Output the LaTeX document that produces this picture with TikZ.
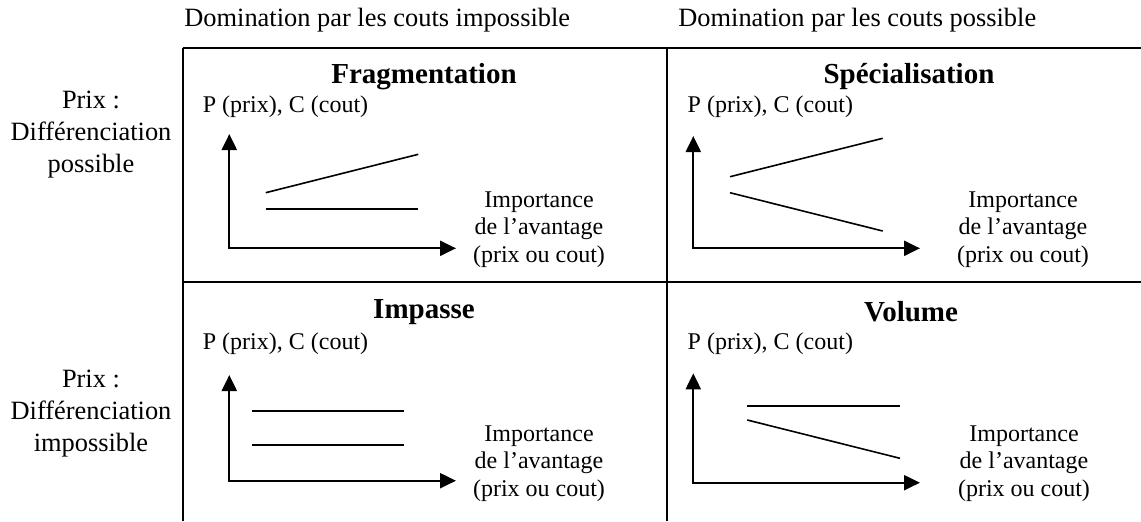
\documentclass[tikz,border=0pt]{standalone}
\usepackage{fontspec}
\setmainfont{Liberation Serif}
\usetikzlibrary{arrows.meta}
\tikzset{
  frame/.style={line width=1pt, black},
  axisline/.style={line width=1.1pt, {Triangle[length=8pt,width=7.5pt]}-{Triangle[length=8pt,width=7.5pt]}},
  curve/.style={line width=0.8pt},
  title/.style={font=\fontsize{14.5}{17}\selectfont\bfseries, inner sep=0pt},
  ylab/.style={font=\fontsize{12}{14}\selectfont, anchor=west, inner sep=0pt},
  xlab/.style={font=\fontsize{12}{13.75}\selectfont, align=center, inner sep=0pt},
  outlab/.style={font=\fontsize{13.2}{16}\selectfont, inner sep=0pt},
  sidelab/.style={font=\fontsize{13.2}{16}\selectfont, align=center, inner sep=0pt},
}
\begin{document}
\begin{tikzpicture}[x=0.5pt, y=-0.5pt]
\useasboundingbox (0,0) rectangle (1141,521);
% frame
\coordinate (tl) at (182.5,48);
\coordinate (tr) at (1141,48);
\coordinate (ml) at (182.5,282);
\coordinate (mr) at (1141,282);
\coordinate (bl) at (182.5,521);
\coordinate (tm) at (667,48);
\coordinate (bm) at (667,521);
\draw[frame] (tl) -- (tr);
\draw[frame] (ml) -- (mr);
\draw[frame] (tl) -- (bl);
\draw[frame] (tm) -- (bm);

% outer labels
\node[outlab, anchor=west] (colA) at (184,20) {Domination par les couts impossible};
\node[outlab, anchor=west] (colB) at (678,20) {Domination par les couts possible};
\node[sidelab] (rowA) at (91,135) {Prix :\\ Différenciation\\ possible};
\node[sidelab] (rowB) at (91,414) {Prix :\\ Différenciation\\ impossible};

% ---- Fragmentation
\node[title] (tF) at (424,77) {Fragmentation};
\node[ylab] (pF) at (202.5,107) {P (prix), C (cout)};
\coordinate (yF) at (229.3,134);
\coordinate (xF) at (456,248.3);
\draw[axisline] (yF) |- (xF);
\coordinate (aF1) at (265.7,192.7);
\coordinate (bF1) at (418.3,154.3);
\coordinate (aF2) at (265.7,209);
\coordinate (bF2) at (418.3,209);
\draw[curve] (aF1) -- (bF1);
\draw[curve] (aF2) -- (bF2);
\node[xlab] (iF) at (539,229.3) {Importance\\ de l’avantage\\ (prix ou cout)};

% ---- Specialisation
\node[title] (tS) at (909,77) {Spécialisation};
\node[ylab] (pS) at (687.3,107) {P (prix), C (cout)};
\coordinate (yS) at (693.3,136);
\coordinate (xS) at (920,248.3);
\draw[axisline] (yS) |- (xS);
\coordinate (aS1) at (730,176.7);
\coordinate (bS1) at (882.7,138.3);
\coordinate (aS2) at (730,192.7);
\coordinate (bS2) at (882.7,231);
\draw[curve] (aS1) -- (bS1);
\draw[curve] (aS2) -- (bS2);
\node[xlab] (iS) at (1023,229.3) {Importance\\ de l’avantage\\ (prix ou cout)};

% ---- Impasse
\node[title] (tI) at (424,311.7) {Impasse};
\node[ylab] (pI) at (202.5,343.3) {P (prix), C (cout)};
\coordinate (yI) at (229.3,375);
\coordinate (xI) at (456,480.7);
\draw[axisline] (yI) |- (xI);
\coordinate (aI1) at (252.3,410.7);
\coordinate (bI1) at (404.3,410.7);
\coordinate (aI2) at (252.3,445);
\coordinate (bI2) at (404.3,445);
\draw[curve] (aI1) -- (bI1);
\draw[curve] (aI2) -- (bI2);
\node[xlab] (iI) at (539,463.5) {Importance\\ de l’avantage\\ (prix ou cout)};

% ---- Volume
\node[title] (tV) at (911,311.7) {Volume};
\node[ylab] (pV) at (687.3,343.3) {P (prix), C (cout)};
\coordinate (yV) at (693.3,373.3);
\coordinate (xV) at (920,482.7);
\draw[axisline] (yV) |- (xV);
\coordinate (aV1) at (747.3,405.7);
\coordinate (bV1) at (900,405.7);
\coordinate (aV2) at (747.3,420);
\coordinate (bV2) at (900,458.3);
\draw[curve] (aV1) -- (bV1);
\draw[curve] (aV2) -- (bV2);
\node[xlab] (iV) at (1024,463.5) {Importance\\ de l’avantage\\ (prix ou cout)};
\end{tikzpicture}
\end{document}
